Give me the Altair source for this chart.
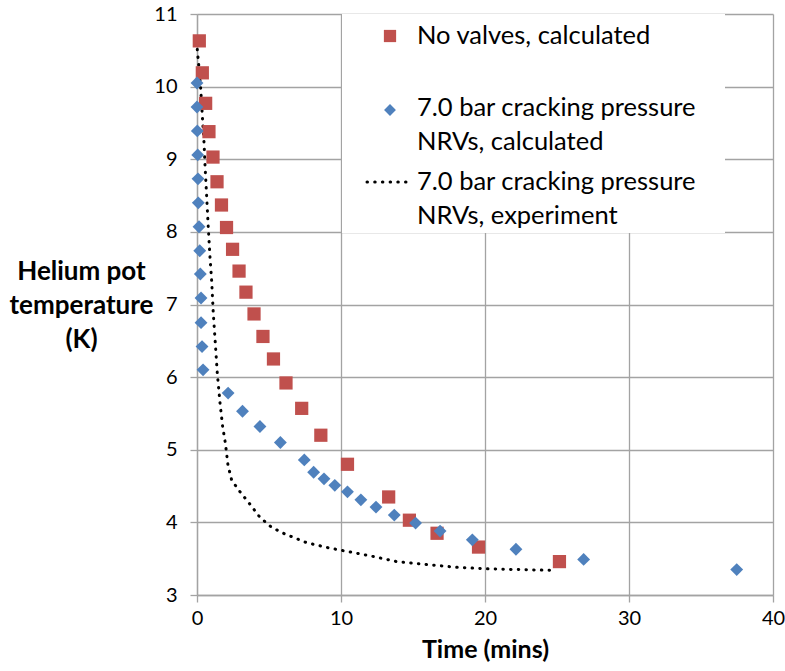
import altair as alt
import pandas as pd

# ---- data ----
red_x = [0.16, 0.37, 0.60, 0.83, 1.11, 1.39, 1.70, 2.05, 2.47, 2.92, 3.40, 3.96, 4.58,
         5.31, 6.18, 7.27, 8.60, 10.45, 13.31, 14.75, 16.67, 19.55, 25.17]
red_y = [10.63, 10.19, 9.77, 9.38, 9.03, 8.69, 8.37, 8.06, 7.76, 7.46, 7.17, 6.87, 6.56,
         6.25, 5.92, 5.57, 5.20, 4.80, 4.35, 4.03, 3.85, 3.66, 3.46]

blue_x = [0.00, 0.00, 0.02, 0.05, 0.07, 0.09, 0.14, 0.19, 0.23, 0.28, 0.28, 0.35, 0.42,
          2.16, 3.16, 4.37, 5.79, 7.45, 8.10, 8.82, 9.57, 10.45, 11.38, 12.43, 13.70,
          15.18, 16.88, 19.12, 22.15, 26.85, 37.48]
blue_y = [10.05, 9.72, 9.39, 9.06, 8.73, 8.40, 8.07, 7.74, 7.42, 7.09, 6.75, 6.42, 6.10,
          5.78, 5.53, 5.32, 5.10, 4.86, 4.69, 4.60, 4.51, 4.42, 4.31, 4.21, 4.10,
          3.99, 3.88, 3.76, 3.63, 3.49, 3.35]

exp_x = [0.02, 0.02, 0.09, 0.26, 0.39, 0.49, 0.56, 0.67, 0.78, 0.90, 1.02, 1.13, 1.27,
         1.41, 1.60, 1.78, 1.97, 2.15, 2.41, 3.03, 3.68, 4.37, 5.19, 6.11, 7.62, 9.12,
         10.70, 12.25, 13.87, 15.95, 18.10, 20.23, 22.36, 24.50]
exp_y = [10.62, 10.48, 10.37, 9.96, 9.53, 9.22, 8.90, 8.49, 8.07, 7.66, 7.32, 6.88, 6.47,
         6.05, 5.64, 5.32, 5.09, 4.79, 4.58, 4.41, 4.25, 4.07, 3.93, 3.84, 3.72, 3.65,
         3.59, 3.53, 3.46, 3.42, 3.38, 3.36, 3.35, 3.34]

x_ticks = [0, 10, 20, 30, 40]
y_ticks = [3, 4, 5, 6, 7, 8, 9, 10, 11]

legend_red = ["No valves, calculated"]
legend_blue = ["7.0 bar cracking pressure", "NRVs, calculated"]
legend_exp = ["7.0 bar cracking pressure", "NRVs, experiment"]

x_title = "Time (mins)"
y_title = ["Helium pot", "temperature", "(K)"]

RED = "#C0504D"
BLUE = "#4F81BD"
GRID = "#a3a3a3"
FONT = "Lato"

df_red = pd.DataFrame({"x": red_x, "y": red_y})
df_blue = pd.DataFrame({"x": blue_x, "y": blue_y})
df_exp = pd.DataFrame({"x": exp_x, "y": exp_y, "i": list(range(len(exp_x)))})

xs = alt.Scale(domain=[0, 40], nice=False, zero=False)
ys = alt.Scale(domain=[3, 11], nice=False, zero=False)

x_axis = alt.Axis(values=x_ticks, format="d", grid=True, gridColor=GRID, gridWidth=1.3,
                  domainColor=GRID, domainWidth=1.3, tickColor=GRID, tickWidth=1.3,
                  tickSize=7, labelFont=FONT, labelFontSize=20, labelColor="black",
                  labelFlush=False, labelPadding=6, title=x_title, titleFont=FONT,
                  titleFontSize=25, titleFontWeight="bold", titleColor="black",
                  titleBaseline="top", titleY=42)
y_axis = alt.Axis(values=y_ticks, format="d", grid=True, gridColor=GRID, gridWidth=1.3,
                  domainColor=GRID, domainWidth=1.3, tickColor=GRID, tickWidth=1.3,
                  tickSize=7, labelFont=FONT, labelFontSize=20, labelColor="black",
                  labelFlush=False, labelPadding=13, title=y_title, titleFont=FONT,
                  titleFontSize=26, titleFontWeight="bold", titleColor="black",
                  titleAngle=0, titleAlign="center", titleBaseline="top",
                  titleX=-116, titleY=244, titleLineHeight=34)

base_x = alt.X("x:Q", scale=xs, axis=x_axis)
base_y = alt.Y("y:Q", scale=ys, axis=y_axis)

line = alt.Chart(df_exp).mark_line(
    color="black", strokeWidth=3, strokeDash=[0.5, 7.2], strokeCap="round"
).encode(x=base_x, y=base_y, order="i:Q")

squares = alt.Chart(df_red).mark_point(
    shape="square", filled=True, color=RED, size=175, opacity=1
).encode(x="x:Q", y="y:Q")

diamonds = alt.Chart(df_blue).mark_point(
    shape="diamond", filled=True, color=BLUE, size=165, opacity=1
).encode(x="x:Q", y="y:Q")

# ---- legend (drawn manually, inside the plot) ----
leg_bg = alt.Chart(pd.DataFrame({"a": [0]})).mark_rect(color="white").encode(
    x=alt.value(145), x2=alt.value(528), y=alt.value(0), y2=alt.value(219))

leg_sq = alt.Chart(pd.DataFrame({"a": [0]})).mark_point(
    shape="square", filled=True, color=RED, size=150, opacity=1
).encode(x=alt.value(193), y=alt.value(22))
leg_di = alt.Chart(pd.DataFrame({"a": [0]})).mark_point(
    shape="diamond", filled=True, color=BLUE, size=140, opacity=1
).encode(x=alt.value(193), y=alt.value(96))
leg_ln = alt.Chart(pd.DataFrame({"a": [0]})).mark_rule(
    color="black", strokeWidth=3, strokeDash=[0.5, 7.2], strokeCap="round"
).encode(x=alt.value(170), x2=alt.value(211), y=alt.value(168))

texts = []
for lines, y0 in [(legend_red, 22), (legend_blue, 94), (legend_exp, 168)]:
    for k, t in enumerate(lines):
        texts.append(
            alt.Chart(pd.DataFrame({"a": [0]})).mark_text(
                align="left", baseline="middle", font=FONT, fontSize=25.5, color="black"
            ).encode(x=alt.value(220), y=alt.value(y0 + 34 * k), text=alt.value(t))
        )

chart = alt.layer(line, leg_bg, squares, diamonds, leg_sq, leg_di, leg_ln, *texts).properties(
    width=576, height=581,
    autosize=alt.AutoSizeParams(type="none"),
    padding={"left": 197, "top": 14, "right": 12, "bottom": 76},
    background="white",
).configure_view(strokeWidth=0)

chart.save("out.html", embed_options={"renderer": "svg", "actions": False})
